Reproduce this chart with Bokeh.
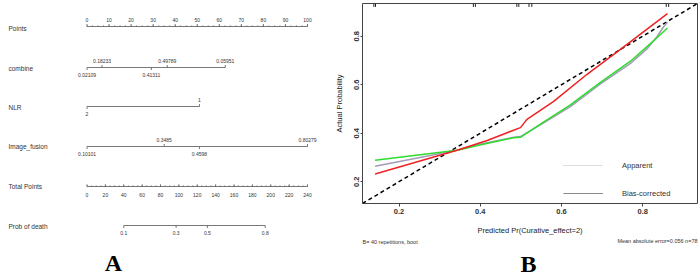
from bokeh.plotting import figure
from bokeh.layouts import row, column
from bokeh.models import Range1d, FixedTicker, Legend, LegendItem
from bokeh.core.properties import value
from bokeh.embed import file_html
from bokeh.resources import INLINE

# ---------------- Panel A: nomogram data ----------------
row_names = ["Points", "combine", "NLR", "Image_fusion", "Total Points", "Prob of death"]
points_ticks = [0, 10, 20, 30, 40, 50, 60, 70, 80, 90, 100]
combine_above_labels = ["0.18233", "0.49789", "0.05951"]
combine_above_points = [6.8, 36.4, 62.7]
combine_below_labels = ["0.02109", "0.41311"]
combine_below_points = [0.0, 29.2]
nlr_above_labels = ["1"]
nlr_above_points = [51.0]
nlr_below_labels = ["2"]
nlr_below_points = [0.0]
imgf_above_labels = ["0.3485", "0.80279"]
imgf_above_points = [35.0, 100.0]
imgf_below_labels = ["0.10101", "0.4598"]
imgf_below_points = [0.0, 51.0]
total_ticks = [0, 20, 40, 60, 80, 100, 120, 140, 160, 180, 200, 220, 240]
prob_labels = ["0.1", "0.3", "0.5", "0.8"]
prob_total_points = [40.0, 97.0, 131.0, 194.0]

# ---------------- Panel B: calibration data ----------------
red_x = [0.141, 0.343, 0.417, 0.499, 0.515, 0.580, 0.663, 0.733, 0.861]
red_y = [0.232, 0.330, 0.370, 0.423, 0.457, 0.530, 0.643, 0.730, 0.893]
grey_x = [0.141, 0.343, 0.396, 0.482, 0.499, 0.548, 0.622, 0.696, 0.770, 0.812, 0.835, 0.852, 0.861]
grey_y = [0.264, 0.330, 0.353, 0.383, 0.386, 0.434, 0.510, 0.603, 0.688, 0.750, 0.798, 0.840, 0.858]
green_x = [0.141, 0.343, 0.396, 0.482, 0.499, 0.548, 0.622, 0.696, 0.770, 0.828, 0.861]
green_y = [0.288, 0.330, 0.350, 0.381, 0.383, 0.437, 0.517, 0.610, 0.697, 0.783, 0.834]
rug_x = [0.138, 0.142, 0.383, 0.388, 0.490, 0.495, 0.520, 0.527, 0.858, 0.864]
axis_ticks_b = [0.2, 0.4, 0.6, 0.8]
legend_labels = ["Apparent", "Bias-corrected"]
note_left = "B= 40 repetitions, boot"
note_right = "Mean absolute error=0.056 n=78"

FONT = "Liberation Sans"
SERIF = "Liberation Serif"

# ================= Figure A =================
WA, H = 330, 276
PX0, PX100 = 86.5, 307.0
ppp = (PX100 - PX0) / 100.0  # pixels per point


def pts_from_px(px):
    return (px - PX0) / ppp


fa = figure(width=WA, height=H, x_range=Range1d(pts_from_px(0), pts_from_px(WA)),
            y_range=Range1d(H, 0), toolbar_location=None, output_backend="svg",
            x_axis_type=None, y_axis_type=None, min_border=0)
fa.grid.visible = False
fa.outline_line_color = None
fa.background_fill_color = "white"

row_y = [26, 67, 106, 146, 186, 225]
label_y = [28, 68, 107, 146, 186, 226]
LINE_C = "#555555"
TXT_C = "#333333"
TICK_FS = value("5px")

fa.text(x=[pts_from_px(8)] * len(row_names), y=label_y, text=row_names,
        text_font=value(FONT), text_font_size=value("6.5px"), text_color=TXT_C,
        text_align="left", text_baseline="middle")


def draw_scale(y, p_start, p_end, above_pts, above_lbl, below_pts, below_lbl, tick_len=2.5):
    fa.segment(x0=[p_start], y0=[y], x1=[p_end], y1=[y], line_color=LINE_C, line_width=0.8)
    if above_pts:
        fa.segment(x0=above_pts, y0=[y] * len(above_pts), x1=above_pts,
                   y1=[y - tick_len] * len(above_pts), line_color=LINE_C, line_width=0.8)
        fa.text(x=above_pts, y=[y - 7] * len(above_pts), text=above_lbl,
                text_font=value(FONT), text_font_size=TICK_FS, text_color=TXT_C,
                text_align="center", text_baseline="middle")
    if below_pts:
        fa.segment(x0=below_pts, y0=[y] * len(below_pts), x1=below_pts,
                   y1=[y + tick_len] * len(below_pts), line_color=LINE_C, line_width=0.8)
        fa.text(x=below_pts, y=[y + 7.5] * len(below_pts), text=below_lbl,
                text_font=value(FONT), text_font_size=TICK_FS, text_color=TXT_C,
                text_align="center", text_baseline="middle")


# Points axis
yp = row_y[0]
minor_pts = [i * 2.5 for i in range(41)]
fa.segment(x0=[0], y0=[yp], x1=[100], y1=[yp], line_color=LINE_C, line_width=0.8)
fa.segment(x0=minor_pts, y0=[yp] * len(minor_pts), x1=minor_pts, y1=[yp - 1.2] * len(minor_pts),
           line_color=LINE_C, line_width=0.6)
fa.segment(x0=points_ticks, y0=[yp] * len(points_ticks), x1=points_ticks,
           y1=[yp - 2.5] * len(points_ticks), line_color=LINE_C, line_width=0.8)
fa.text(x=points_ticks, y=[yp - 7] * len(points_ticks), text=[str(t) for t in points_ticks],
        text_font=value(FONT), text_font_size=TICK_FS, text_color=TXT_C,
        text_align="center", text_baseline="middle")

# combine
draw_scale(row_y[1], 0, max(combine_above_points + combine_below_points),
           combine_above_points, combine_above_labels, combine_below_points, combine_below_labels)
# NLR
draw_scale(row_y[2], 0, max(nlr_above_points + nlr_below_points),
           nlr_above_points, nlr_above_labels, nlr_below_points, nlr_below_labels)
# Image_fusion
draw_scale(row_y[3], 0, max(imgf_above_points + imgf_below_points),
           imgf_above_points, imgf_above_labels, imgf_below_points, imgf_below_labels)

# Total points axis
scale_tp = 100.0 / 240.0
yt = row_y[4]
tt = [t * scale_tp for t in total_ticks]
minor_tt = [i * 5 * scale_tp for i in range(49)]
fa.segment(x0=[0], y0=[yt], x1=[240 * scale_tp], y1=[yt], line_color=LINE_C, line_width=0.8)
fa.segment(x0=minor_tt, y0=[yt] * len(minor_tt), x1=minor_tt, y1=[yt - 1.2] * len(minor_tt),
           line_color=LINE_C, line_width=0.6)
fa.segment(x0=tt, y0=[yt] * len(tt), x1=tt, y1=[yt - 2.2] * len(tt), line_color=LINE_C, line_width=0.8)
fa.text(x=tt, y=[yt + 8] * len(tt), text=[str(t) for t in total_ticks],
        text_font=value(FONT), text_font_size=TICK_FS, text_color=TXT_C,
        text_align="center", text_baseline="middle")

# Prob of death
pp = [t * scale_tp for t in prob_total_points]
draw_scale(row_y[5], pp[0], pp[-1], [], [], pp, prob_labels)

# Panel letter A
fa.text(x=[pts_from_px(113)], y=[262], text=["A"], text_font=value(SERIF),
        text_font_style="bold", text_font_size=value("24px"), text_color="black",
        text_align="center", text_baseline="middle")

# ================= Figure B =================
WB = 699 - WA
HB = 237
HN = H - HB
LO, HI = 0.11, 0.935
fb = figure(width=WB, height=HB, x_range=Range1d(LO, HI), y_range=Range1d(LO, HI),
            toolbar_location=None, output_backend="svg",
            min_border_left=32, min_border_right=2, min_border_top=3, min_border_bottom=33)
fb.grid.visible = False
fb.outline_line_color = "#444444"
fb.outline_line_width = 1

for ax in (fb.xaxis[0], fb.yaxis[0]):
    ax.ticker = FixedTicker(ticks=axis_ticks_b)
    ax.axis_line_color = None
    ax.minor_tick_line_color = None
    ax.major_tick_line_color = "#444444"
    ax.major_tick_in = 0
    ax.major_label_text_font = FONT
    ax.major_label_text_font_style = "bold"
    ax.major_label_text_font_size = "7.5px"
    ax.major_label_text_color = "#333333"
    ax.axis_label_text_font = FONT
    ax.axis_label_text_font_style = "normal"
    ax.axis_label_text_font_size = "7.5px"
    ax.axis_label_text_color = "#222222"

fb.xaxis.major_tick_out = 3
fb.xaxis.major_label_standoff = 2
fb.xaxis.axis_label = "Predicted Pr(Curative_effect=2)"
fb.xaxis.axis_label_standoff = 9
fb.yaxis.major_tick_out = 2
fb.yaxis.major_label_standoff = 1
fb.yaxis.major_label_orientation = "vertical"
fb.yaxis.axis_label = "Actual Probability"
fb.yaxis.axis_label_standoff = 8

# ideal line
fb.line(x=[LO, HI], y=[LO, HI], line_color="black", line_width=1.5, line_dash="4 3")
# curves
fb.line(x=grey_x, y=grey_y, line_color="#A39CB6", line_width=1.5)
fb.line(x=green_x, y=green_y, line_color="#2EDB2E", line_width=1.5)
fb.line(x=red_x, y=red_y, line_color="#EE2222", line_width=1.5)
# rug
fb.segment(x0=rug_x, y0=[HI] * len(rug_x), x1=rug_x, y1=[HI - 0.014] * len(rug_x),
           line_color="#222222", line_width=1)

# legend (style samples only)
nan = float("nan")
r_app = fb.line(x=[nan], y=[nan], line_color="#BDBDBD", line_width=1, line_dash="1 1")
r_bc = fb.line(x=[nan], y=[nan], line_color="#8A8A8A", line_width=1)
leg = Legend(items=[LegendItem(label=legend_labels[0], renderers=[r_app]),
                    LegendItem(label=legend_labels[1], renderers=[r_bc])],
             location=(201, 0), orientation="vertical", glyph_width=40, glyph_height=20,
             label_height=20, spacing=8, padding=0, margin=0, label_standoff=19,
             border_line_color=None, background_fill_alpha=0,
             label_text_font=FONT, label_text_font_size="7.5px", label_text_color="#333333")
fb.add_layout(leg)

# ================= Notes strip under panel B =================
fn = figure(width=WB, height=HN, x_range=Range1d(0, WB), y_range=Range1d(HN, 0),
            toolbar_location=None, output_backend="svg",
            x_axis_type=None, y_axis_type=None, min_border=0)
fn.grid.visible = False
fn.outline_line_color = None
fn.text(x=[32], y=[4], text=[note_left], text_font=value(FONT), text_font_size=value("5.5px"),
        text_color="#333333", text_align="left", text_baseline="middle")
fn.text(x=[367], y=[3], text=[note_right], text_font=value(FONT), text_font_size=value("5.5px"),
        text_color="#333333", text_align="right", text_baseline="middle")
fn.text(x=[198], y=[26], text=["B"], text_font=value(SERIF), text_font_style="bold",
        text_font_size=value("24px"), text_color="black", text_align="center",
        text_baseline="middle")

layout = row(column(fa), column(column(fb), column(fn), spacing=0), spacing=0)
open("out.html", "w").write(file_html(layout, INLINE))
